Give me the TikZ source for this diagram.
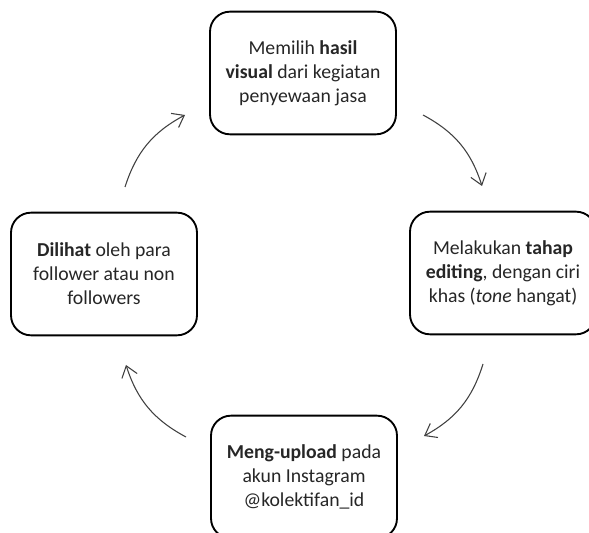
\documentclass[tikz,border=0pt]{standalone}
\usepackage{fontspec}
\setmainfont{Carlito}
\usetikzlibrary{arrows.meta}

\begin{document}
\begin{tikzpicture}[x=0.75pt,y=0.75pt,
    box/.style={draw,line width=1.4pt,rounded corners=15pt,
        minimum width=139.5pt,minimum height=92pt,align=center,
        font=\fontsize{14.8}{18}\selectfont,text=black!85},
    cyc/.style={draw=black!75,line width=0.8pt,bend left=22,
        -{Straight Barb[length=8pt,width=12pt]}}]%
        \useasboundingbox (0,0) rectangle (589,532);
        % the four steps
        \node[box] (pilih) at (303,459) {Memilih \textbf{hasil}\\\textbf{visual} dari kegiatan\\penyewaan jasa};
        \node[box] (edit) at (503,259) {Melakukan \textbf{tahap}\\\textbf{editing}, dengan ciri\\khas (\textit{tone} hangat)};
        \node[box] (upload) at (304,55) {\textbf{Meng-upload} pada\\akun Instagram\\@kolektifan\_id};
        \node[box] (lihat) at (104,258) {\textbf{Dilihat} oleh para\\follower atau non\\followers};
        % arrow ends
        \coordinate (a1) at (125,345); \coordinate (b1) at (185,417);
        \coordinate (a2) at (423,417); \coordinate (b2) at (482,346);
        \coordinate (a3) at (483,168); \coordinate (b3) at (424,96);
        \coordinate (a4) at (186,95);  \coordinate (b4) at (126,167);
        \draw[cyc] (a1) to (b1);
        \draw[cyc] (a2) to (b2);
        \draw[cyc] (a3) to (b3);
        \draw[cyc] (a4) to (b4);
    \end{tikzpicture}
\end{document}
